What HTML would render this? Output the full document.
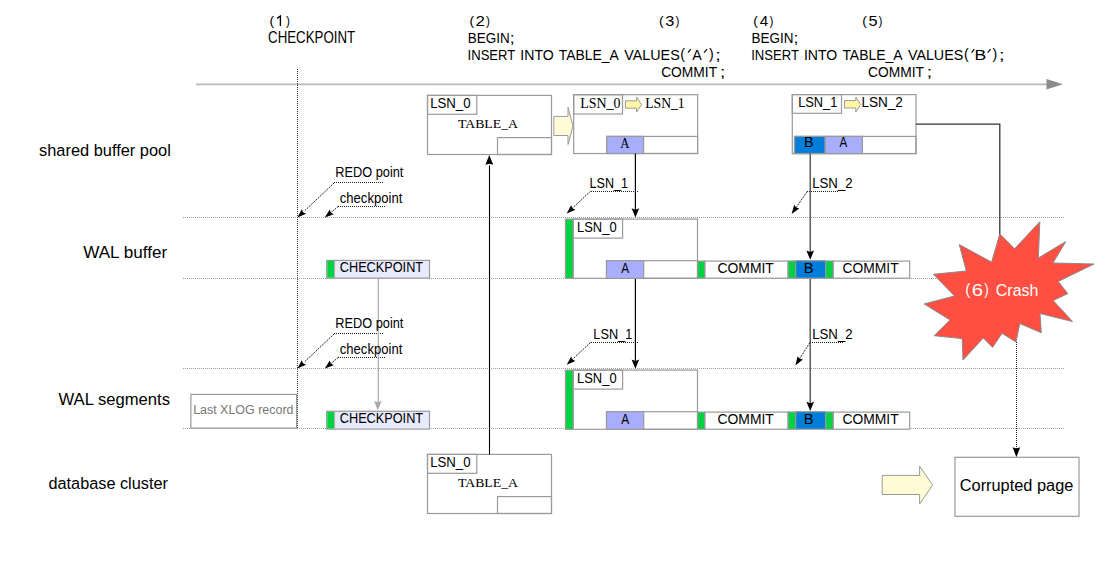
<!DOCTYPE html>
<html><head><meta charset="utf-8"><style>
html,body{margin:0;padding:0;background:#fff;width:1118px;height:570px;overflow:hidden}
svg{display:block}
text{white-space:pre}
</style></head><body>
<svg width="1118" height="570" viewBox="0 0 1118 570">
<rect width="1118" height="570" fill="#fff"/>
<line x1="196.00" y1="84.40" x2="1047.00" y2="84.40" stroke="#b8b8b8" stroke-width="1.8"/>
<polygon points="1046.50,79.00 1063.00,84.30 1046.50,89.50" fill="#8c8c8c" stroke="none" stroke-width="1" stroke-linejoin="miter"/>
<path d="M277.00,18.4 L280.40,16.0 L280.40,26.0" fill="none" stroke="#000" stroke-width="1.35" stroke-linejoin="miter"/>
<line x1="688.00" y1="52.70" x2="690.70" y2="49.10" stroke="#111" stroke-width="1.3"/>
<line x1="704.10" y1="52.70" x2="707.00" y2="49.10" stroke="#111" stroke-width="1.3"/>
<line x1="971.60" y1="52.70" x2="974.30" y2="49.10" stroke="#111" stroke-width="1.3"/>
<line x1="987.70" y1="52.70" x2="990.60" y2="49.10" stroke="#111" stroke-width="1.3"/>
<line x1="183.00" y1="217.50" x2="1064.00" y2="217.50" stroke="#a0a0a0" stroke-width="1" stroke-dasharray="1 1"/>
<line x1="183.00" y1="278.50" x2="1064.00" y2="278.50" stroke="#a0a0a0" stroke-width="1" stroke-dasharray="1 1"/>
<line x1="183.00" y1="368.50" x2="1064.00" y2="368.50" stroke="#a0a0a0" stroke-width="1" stroke-dasharray="1 1"/>
<line x1="183.00" y1="428.50" x2="1064.00" y2="428.50" stroke="#a0a0a0" stroke-width="1" stroke-dasharray="1 1"/>
<line x1="297.50" y1="69.00" x2="297.50" y2="428.50" stroke="#333" stroke-width="1" stroke-dasharray="1 1"/>
<rect x="427.50" y="95.40" width="124.00" height="59.10" fill="#fff" stroke="#9a9a9a" stroke-width="1.2"/>
<rect x="427.50" y="95.40" width="49.30" height="18.90" fill="none" stroke="#9a9a9a" stroke-width="1.2"/>
<rect x="497.50" y="137.60" width="54.00" height="16.90" fill="none" stroke="#9a9a9a" stroke-width="1.2"/>
<rect x="427.50" y="454.40" width="124.00" height="59.10" fill="#fff" stroke="#9a9a9a" stroke-width="1.2"/>
<rect x="427.50" y="454.40" width="49.30" height="18.90" fill="none" stroke="#9a9a9a" stroke-width="1.2"/>
<rect x="497.50" y="496.60" width="54.00" height="16.90" fill="none" stroke="#9a9a9a" stroke-width="1.2"/>
<polygon points="553.80,116.40 568.00,116.40 568.00,107.30 573.00,125.90 568.00,144.50 568.00,135.50 553.80,135.50" fill="#fffbd5" stroke="#9a9a9a" stroke-width="1" stroke-linejoin="miter"/>
<rect x="573.70" y="94.70" width="123.90" height="58.80" fill="#fff" stroke="#9a9a9a" stroke-width="1.2"/>
<rect x="573.70" y="94.70" width="48.80" height="19.30" fill="none" stroke="#9a9a9a" stroke-width="1.2"/>
<rect x="606.80" y="136.40" width="90.80" height="17.10" fill="none" stroke="#9a9a9a" stroke-width="1.2"/>
<rect x="606.80" y="136.40" width="36.80" height="17.10" fill="#a9adff" stroke="#9a9a9a" stroke-width="1.2"/>
<polygon points="625.40,100.80 636.60,100.80 636.60,97.10 641.50,104.60 636.60,112.10 636.60,108.20 625.40,108.20" fill="#fff6a6" stroke="#9a9a9a" stroke-width="1" stroke-linejoin="miter"/>
<rect x="792.30" y="94.60" width="123.70" height="59.10" fill="#fff" stroke="#9a9a9a" stroke-width="1.2"/>
<rect x="792.30" y="94.60" width="49.20" height="18.70" fill="none" stroke="#9a9a9a" stroke-width="1.2"/>
<rect x="794.50" y="136.40" width="121.50" height="17.10" fill="none" stroke="#9a9a9a" stroke-width="1.2"/>
<rect x="794.50" y="136.40" width="30.70" height="17.10" fill="#007ed9" stroke="#9a9a9a" stroke-width="1.2"/>
<rect x="825.20" y="136.40" width="37.20" height="17.10" fill="#a9adff" stroke="#9a9a9a" stroke-width="1.2"/>
<polygon points="844.50,100.60 855.80,100.60 855.80,97.00 860.70,104.50 855.80,112.00 855.80,108.00 844.50,108.00" fill="#fff6a6" stroke="#9a9a9a" stroke-width="1" stroke-linejoin="miter"/>
<polyline points="916,124.2 999.8,124.2 999.8,236" fill="none" stroke="#333" stroke-width="1.3"/>
<line x1="635.40" y1="153.50" x2="635.40" y2="210.00" stroke="#000" stroke-width="1.2"/>
<polygon points="635.40,217.60 631.60,208.30 635.40,209.80 639.20,208.30" fill="#000" stroke="none" stroke-width="1" stroke-linejoin="miter"/>
<line x1="635.40" y1="278.30" x2="635.40" y2="361.00" stroke="#000" stroke-width="1.2"/>
<polygon points="635.40,368.80 631.60,359.50 635.40,361.00 639.20,359.50" fill="#000" stroke="none" stroke-width="1" stroke-linejoin="miter"/>
<line x1="810.20" y1="153.50" x2="810.20" y2="254.00" stroke="#444" stroke-width="1.3"/>
<polygon points="810.20,259.80 806.40,250.50 810.20,252.00 814.00,250.50" fill="#000" stroke="none" stroke-width="1" stroke-linejoin="miter"/>
<line x1="810.20" y1="278.30" x2="810.20" y2="405.00" stroke="#444" stroke-width="1.3"/>
<polygon points="810.20,411.00 806.40,401.70 810.20,403.20 814.00,401.70" fill="#000" stroke="none" stroke-width="1" stroke-linejoin="miter"/>
<line x1="489.50" y1="454.40" x2="489.50" y2="165.50" stroke="#000" stroke-width="1.1"/>
<polygon points="489.30,155.00 493.20,164.80 489.30,163.80 485.40,164.80" fill="#000" stroke="none" stroke-width="1" stroke-linejoin="miter"/>
<line x1="334.00" y1="182.50" x2="384.00" y2="182.50" stroke="#222" stroke-width="1" stroke-dasharray="1 1"/>
<line x1="334.50" y1="182.60" x2="304.82" y2="210.60" stroke="#222" stroke-width="1.0" stroke-dasharray="2 1"/>
<polygon points="297.40,217.60 301.82,209.17 303.07,212.25 306.07,213.68" fill="#000" stroke="none" stroke-width="1" stroke-linejoin="miter"/>
<line x1="338.00" y1="206.50" x2="386.00" y2="206.50" stroke="#222" stroke-width="1" stroke-dasharray="1 1"/>
<line x1="338.50" y1="206.20" x2="327.54" y2="215.32" stroke="#222" stroke-width="1.0" stroke-dasharray="2 1"/>
<polygon points="324.80,217.60 329.74,209.46 330.80,212.61 333.70,214.23" fill="#000" stroke="none" stroke-width="1" stroke-linejoin="miter"/>
<line x1="334.00" y1="333.50" x2="384.00" y2="333.50" stroke="#222" stroke-width="1" stroke-dasharray="1 1"/>
<line x1="334.50" y1="333.60" x2="304.82" y2="361.60" stroke="#222" stroke-width="1.0" stroke-dasharray="2 1"/>
<polygon points="297.40,368.60 301.82,360.17 303.07,363.25 306.07,364.68" fill="#000" stroke="none" stroke-width="1" stroke-linejoin="miter"/>
<line x1="338.00" y1="357.50" x2="386.00" y2="357.50" stroke="#222" stroke-width="1" stroke-dasharray="1 1"/>
<line x1="338.50" y1="357.20" x2="327.54" y2="366.32" stroke="#222" stroke-width="1.0" stroke-dasharray="2 1"/>
<polygon points="324.80,368.60 329.74,360.46 330.80,363.61 333.70,365.23" fill="#000" stroke="none" stroke-width="1" stroke-linejoin="miter"/>
<line x1="591.00" y1="191.50" x2="638.00" y2="191.50" stroke="#222" stroke-width="1" stroke-dasharray="1 1"/>
<line x1="590.60" y1="191.10" x2="571.48" y2="209.10" stroke="#222" stroke-width="1.0" stroke-dasharray="2 1"/>
<polygon points="566.70,213.60 571.13,205.17 572.38,208.25 575.38,209.69" fill="#000" stroke="none" stroke-width="1" stroke-linejoin="miter"/>
<line x1="807.00" y1="191.50" x2="839.00" y2="191.50" stroke="#222" stroke-width="1" stroke-dasharray="1 1"/>
<line x1="807.40" y1="191.30" x2="794.76" y2="209.46" stroke="#222" stroke-width="1.0" stroke-dasharray="2 1"/>
<polygon points="791.60,214.00 794.20,204.84 796.06,207.60 799.29,208.38" fill="#000" stroke="none" stroke-width="1" stroke-linejoin="miter"/>
<line x1="591.00" y1="342.50" x2="638.00" y2="342.50" stroke="#222" stroke-width="1" stroke-dasharray="1 1"/>
<line x1="590.60" y1="342.40" x2="571.48" y2="360.32" stroke="#222" stroke-width="1.0" stroke-dasharray="2 1"/>
<polygon points="566.70,364.80 571.15,356.38 572.39,359.47 575.39,360.91" fill="#000" stroke="none" stroke-width="1" stroke-linejoin="miter"/>
<line x1="810.00" y1="342.50" x2="843.00" y2="342.50" stroke="#222" stroke-width="1" stroke-dasharray="1 1"/>
<line x1="810.00" y1="342.40" x2="798.32" y2="360.80" stroke="#222" stroke-width="1.0" stroke-dasharray="2 1"/>
<polygon points="795.40,365.40 797.61,356.14 799.58,358.81 802.84,359.46" fill="#000" stroke="none" stroke-width="1" stroke-linejoin="miter"/>
<rect x="326.70" y="260.40" width="102.80" height="17.70" fill="#e8eafe" stroke="#9a9a9a" stroke-width="1.2"/>
<rect x="327.30" y="260.90" width="6.80" height="16.70" fill="#00d242" stroke="none" stroke-width="1.2"/>
<line x1="334.60" y1="260.40" x2="334.60" y2="278.10" stroke="#aaa" stroke-width="1"/>
<rect x="326.70" y="411.30" width="102.80" height="17.80" fill="#e8eafe" stroke="#9a9a9a" stroke-width="1.2"/>
<rect x="327.30" y="411.80" width="6.80" height="16.80" fill="#00d242" stroke="none" stroke-width="1.2"/>
<line x1="334.60" y1="411.30" x2="334.60" y2="429.10" stroke="#aaa" stroke-width="1"/>
<line x1="378.30" y1="278.10" x2="378.30" y2="403.00" stroke="#aaa" stroke-width="1.2"/>
<polygon points="377.80,410.40 374.10,401.00 377.80,402.30 381.50,401.00" fill="#a8a8a8" stroke="none" stroke-width="1" stroke-linejoin="miter"/>
<rect x="190.90" y="394.40" width="105.70" height="33.70" fill="#fff" stroke="#9a9a9a" stroke-width="1.2"/>
<rect x="565.40" y="219.10" width="7.90" height="59.20" fill="#00d242" stroke="#9a9a9a" stroke-width="1.2"/>
<rect x="573.30" y="219.10" width="124.20" height="59.20" fill="#fff" stroke="#9a9a9a" stroke-width="1.2"/>
<rect x="573.30" y="219.10" width="49.30" height="19.00" fill="none" stroke="#9a9a9a" stroke-width="1.2"/>
<rect x="606.50" y="260.70" width="91.00" height="17.60" fill="none" stroke="#9a9a9a" stroke-width="1.2"/>
<rect x="606.50" y="260.70" width="37.20" height="17.60" fill="#a9adff" stroke="#9a9a9a" stroke-width="1.2"/>
<rect x="697.70" y="261.10" width="7.30" height="17.10" fill="#00d242" stroke="#9a9a9a" stroke-width="1.2"/>
<rect x="705.00" y="261.10" width="83.10" height="17.10" fill="#fff" stroke="#9a9a9a" stroke-width="1.2"/>
<rect x="788.10" y="261.00" width="7.60" height="17.20" fill="#00d242" stroke="#9a9a9a" stroke-width="1.2"/>
<rect x="795.70" y="260.70" width="30.00" height="17.50" fill="#007ed9" stroke="#9a9a9a" stroke-width="1.2"/>
<rect x="825.70" y="261.00" width="7.60" height="17.20" fill="#00d242" stroke="#9a9a9a" stroke-width="1.2"/>
<rect x="833.30" y="261.10" width="76.40" height="17.10" fill="#fff" stroke="#9a9a9a" stroke-width="1.2"/>
<rect x="565.40" y="370.10" width="7.90" height="59.20" fill="#00d242" stroke="#9a9a9a" stroke-width="1.2"/>
<rect x="573.30" y="370.10" width="124.20" height="59.20" fill="#fff" stroke="#9a9a9a" stroke-width="1.2"/>
<rect x="573.30" y="370.10" width="49.30" height="19.00" fill="none" stroke="#9a9a9a" stroke-width="1.2"/>
<rect x="606.50" y="411.70" width="91.00" height="17.60" fill="none" stroke="#9a9a9a" stroke-width="1.2"/>
<rect x="606.50" y="411.70" width="37.20" height="17.60" fill="#a9adff" stroke="#9a9a9a" stroke-width="1.2"/>
<rect x="697.70" y="412.10" width="7.30" height="17.10" fill="#00d242" stroke="#9a9a9a" stroke-width="1.2"/>
<rect x="705.00" y="412.10" width="83.10" height="17.10" fill="#fff" stroke="#9a9a9a" stroke-width="1.2"/>
<rect x="788.10" y="412.00" width="7.60" height="17.20" fill="#00d242" stroke="#9a9a9a" stroke-width="1.2"/>
<rect x="795.70" y="411.70" width="30.00" height="17.50" fill="#007ed9" stroke="#9a9a9a" stroke-width="1.2"/>
<rect x="825.70" y="412.00" width="7.60" height="17.20" fill="#00d242" stroke="#9a9a9a" stroke-width="1.2"/>
<rect x="833.30" y="412.10" width="76.40" height="17.10" fill="#fff" stroke="#9a9a9a" stroke-width="1.2"/>
<polygon points="999.80,234.00 1014.60,248.80 1039.80,221.70 1038.40,257.90 1065.80,241.60 1053.00,263.00 1094.00,264.00 1058.20,281.50 1067.80,293.60 1053.20,300.50 1072.60,321.60 1040.00,313.50 1041.30,332.70 1019.80,323.60 1016.00,342.00 1002.00,333.30 992.60,347.40 983.30,338.00 963.00,360.00 962.20,338.60 934.20,335.70 950.00,320.00 924.20,303.90 954.40,296.00 933.50,274.30 966.30,271.00 959.30,244.60 991.60,262.10" fill="#ff4f42" stroke="#8a8a8a" stroke-width="1" stroke-linejoin="miter"/>
<line x1="1016.50" y1="342.00" x2="1016.50" y2="449.00" stroke="#222" stroke-width="1" stroke-dasharray="1 1"/>
<polygon points="1016.40,457.20 1012.60,447.20 1016.40,448.40 1020.20,447.20" fill="#000" stroke="none" stroke-width="1" stroke-linejoin="miter"/>
<polygon points="882.20,475.40 919.60,475.40 919.60,466.20 932.60,485.10 919.60,504.00 919.60,494.50 882.20,494.50" fill="#fffbd5" stroke="#9a9a9a" stroke-width="1" stroke-linejoin="miter"/>
<rect x="955.00" y="457.30" width="124.00" height="59.00" fill="#fff" stroke="#9a9a9a" stroke-width="1.2"/>
<text transform="translate(269.45 25.19) scale(1.0407 1)" font-family="Liberation Sans" font-size="13.325" fill="#000">(</text>
<text transform="translate(285.90 25.19) scale(0.8806 1)" font-family="Liberation Sans" font-size="13.325" fill="#000">)</text>
<text transform="translate(469.45 25.19) scale(1.0407 1)" font-family="Liberation Sans" font-size="13.325" fill="#000">(</text>
<text transform="translate(475.41 26.00) scale(1.0873 1)" font-family="Liberation Sans" font-size="15.500" fill="#000">2</text>
<text transform="translate(485.90 25.19) scale(0.8806 1)" font-family="Liberation Sans" font-size="13.325" fill="#000">)</text>
<text transform="translate(658.95 25.19) scale(1.0407 1)" font-family="Liberation Sans" font-size="13.325" fill="#000">(</text>
<text transform="translate(665.19 26.00) scale(1.0522 1)" font-family="Liberation Sans" font-size="15.500" fill="#000">3</text>
<text transform="translate(675.40 25.19) scale(0.8806 1)" font-family="Liberation Sans" font-size="13.325" fill="#000">)</text>
<text transform="translate(753.15 25.19) scale(1.0407 1)" font-family="Liberation Sans" font-size="13.325" fill="#000">(</text>
<text transform="translate(759.66 26.00) scale(0.9885 1)" font-family="Liberation Sans" font-size="15.500" fill="#000">4</text>
<text transform="translate(769.60 25.19) scale(0.8806 1)" font-family="Liberation Sans" font-size="13.325" fill="#000">)</text>
<text transform="translate(862.15 25.19) scale(1.0407 1)" font-family="Liberation Sans" font-size="13.325" fill="#000">(</text>
<text transform="translate(868.39 26.00) scale(1.0522 1)" font-family="Liberation Sans" font-size="15.500" fill="#000">5</text>
<text transform="translate(878.60 25.19) scale(0.8806 1)" font-family="Liberation Sans" font-size="13.325" fill="#000">)</text>
<text transform="translate(268.08 42.90) scale(0.8467 1)" font-family="Liberation Sans" font-size="15.700" fill="#000">CHECKPOINT</text>
<text transform="translate(467.75 42.90) scale(0.8698 1)" font-family="Liberation Sans" font-size="15.500" fill="#000">BEGIN</text>
<text transform="translate(509.73 42.90) scale(1.1355 1)" font-family="Liberation Sans" font-size="15.500" fill="#000">;</text>
<text transform="translate(467.58 59.70) scale(0.8442 1)" font-family="Liberation Sans" font-size="15.500" fill="#000">INSERT</text>
<text transform="translate(520.30 59.70) scale(0.9094 1)" font-family="Liberation Sans" font-size="15.500" fill="#000">INTO</text>
<text transform="translate(558.78 59.70) scale(0.8989 1)" font-family="Liberation Sans" font-size="15.500" fill="#000">TABLE_A</text>
<text transform="translate(624.30 59.70) scale(0.9231 1)" font-family="Liberation Sans" font-size="15.500" fill="#000">VALUES</text>
<text transform="translate(680.33 59.39) scale(1.0348 1)" font-family="Liberation Sans" font-size="13.744" fill="#000">(</text>
<text transform="translate(692.20 59.80) scale(0.9218 1)" font-family="Liberation Sans" font-size="15.500" fill="#000">A</text>
<text transform="translate(709.00 59.39) scale(1.0348 1)" font-family="Liberation Sans" font-size="13.744" fill="#000">)</text>
<text transform="translate(715.34 59.70) scale(1.2903 1)" font-family="Liberation Sans" font-size="15.500" fill="#000">;</text>
<text transform="translate(661.15 76.50) scale(0.8908 1)" font-family="Liberation Sans" font-size="15.500" fill="#000">COMMIT</text>
<text transform="translate(719.90 76.50) scale(1.2387 1)" font-family="Liberation Sans" font-size="15.500" fill="#000">;</text>
<text transform="translate(751.45 42.90) scale(0.8698 1)" font-family="Liberation Sans" font-size="15.500" fill="#000">BEGIN</text>
<text transform="translate(793.42 42.90) scale(1.1355 1)" font-family="Liberation Sans" font-size="15.500" fill="#000">;</text>
<text transform="translate(751.18 59.70) scale(0.8442 1)" font-family="Liberation Sans" font-size="15.500" fill="#000">INSERT</text>
<text transform="translate(803.90 59.70) scale(0.9094 1)" font-family="Liberation Sans" font-size="15.500" fill="#000">INTO</text>
<text transform="translate(842.38 59.70) scale(0.8989 1)" font-family="Liberation Sans" font-size="15.500" fill="#000">TABLE_A</text>
<text transform="translate(907.90 59.70) scale(0.9231 1)" font-family="Liberation Sans" font-size="15.500" fill="#000">VALUES</text>
<text transform="translate(963.93 59.39) scale(1.0348 1)" font-family="Liberation Sans" font-size="13.744" fill="#000">(</text>
<text transform="translate(974.43 59.80) scale(1.1325 1)" font-family="Liberation Sans" font-size="15.500" fill="#000">B</text>
<text transform="translate(992.60 59.39) scale(1.0348 1)" font-family="Liberation Sans" font-size="13.744" fill="#000">)</text>
<text transform="translate(998.94 59.70) scale(1.2903 1)" font-family="Liberation Sans" font-size="15.500" fill="#000">;</text>
<text transform="translate(868.05 76.50) scale(0.8908 1)" font-family="Liberation Sans" font-size="15.500" fill="#000">COMMIT</text>
<text transform="translate(926.80 76.50) scale(1.2387 1)" font-family="Liberation Sans" font-size="15.500" fill="#000">;</text>
<text transform="translate(39.04 156.40) scale(0.9942 1)" font-family="Liberation Sans" font-size="16.500" fill="#000">shared buffer pool</text>
<text transform="translate(83.20 258.20) scale(1.0363 1)" font-family="Liberation Sans" font-size="16.500" fill="#000">WAL buffer</text>
<text transform="translate(58.50 404.80) scale(1.0086 1)" font-family="Liberation Sans" font-size="16.500" fill="#000">WAL segments</text>
<text transform="translate(48.49 488.50) scale(0.9877 1)" font-family="Liberation Sans" font-size="16.500" fill="#000">database cluster</text>
<text transform="translate(430.17 108.40) scale(0.8919 1)" font-family="Liberation Sans" font-size="14.800" fill="#000">LSN_0</text>
<text transform="translate(457.98 128.20) scale(1.0349 1)" font-family="Liberation Serif" font-size="13.300" fill="#000" stroke="#000" stroke-width="0.05">TABLE_A</text>
<text transform="translate(430.17 467.40) scale(0.8919 1)" font-family="Liberation Sans" font-size="14.800" fill="#000">LSN_0</text>
<text transform="translate(457.98 487.20) scale(1.0349 1)" font-family="Liberation Serif" font-size="13.300" fill="#000" stroke="#000" stroke-width="0.05">TABLE_A</text>
<text transform="translate(580.28 108.10) scale(0.9952 1)" font-family="Liberation Serif" font-size="14.000" fill="#000" stroke="#000" stroke-width="0.05">LSN_0</text>
<text transform="translate(645.19 108.40) scale(0.9779 1)" font-family="Liberation Serif" font-size="14.000" fill="#000" stroke="#000" stroke-width="0.05">LSN_1</text>
<text transform="translate(620.30 147.70) scale(0.9143 1)" font-family="Liberation Serif" font-size="14.000" fill="#000" stroke="#000" stroke-width="0.05">A</text>
<text transform="translate(798.20 106.90) scale(0.8644 1)" font-family="Liberation Sans" font-size="14.800" fill="#000">LSN_1</text>
<text transform="translate(861.44 107.10) scale(0.9150 1)" font-family="Liberation Sans" font-size="14.800" fill="#000">LSN_2</text>
<text transform="translate(804.07 147.40) scale(1.0318 1)" font-family="Liberation Sans" font-size="14.000" fill="#000">B</text>
<text transform="translate(839.40 147.40) scale(0.8292 1)" font-family="Liberation Sans" font-size="14.000" fill="#000">A</text>
<text transform="translate(335.20 177.10) scale(0.8823 1)" font-family="Liberation Sans" font-size="14.500" fill="#000">REDO point</text>
<text transform="translate(339.79 203.10) scale(0.9025 1)" font-family="Liberation Sans" font-size="14.500" fill="#000">checkpoint</text>
<text transform="translate(335.20 328.10) scale(0.8823 1)" font-family="Liberation Sans" font-size="14.500" fill="#000">REDO point</text>
<text transform="translate(339.79 354.10) scale(0.9025 1)" font-family="Liberation Sans" font-size="14.500" fill="#000">checkpoint</text>
<text transform="translate(589.62 188.20) scale(0.8541 1)" font-family="Liberation Sans" font-size="14.700" fill="#000">LSN_1</text>
<text transform="translate(812.17 188.00) scale(0.9004 1)" font-family="Liberation Sans" font-size="14.700" fill="#000">LSN_2</text>
<text transform="translate(593.30 339.00) scale(0.8680 1)" font-family="Liberation Sans" font-size="14.700" fill="#000">LSN_1</text>
<text transform="translate(812.17 339.10) scale(0.9004 1)" font-family="Liberation Sans" font-size="14.700" fill="#000">LSN_2</text>
<text transform="translate(339.80 272.40) scale(0.8208 1)" font-family="Liberation Sans" font-size="15.500" fill="#000">CHECKPOINT</text>
<text transform="translate(339.80 423.40) scale(0.8208 1)" font-family="Liberation Sans" font-size="15.500" fill="#000">CHECKPOINT</text>
<text transform="translate(193.13 414.00) scale(0.9100 1)" font-family="Liberation Sans" font-size="13.700" fill="#777">Last XLOG record</text>
<text transform="translate(576.99 232.00) scale(0.8759 1)" font-family="Liberation Sans" font-size="14.800" fill="#000">LSN_0</text>
<text transform="translate(621.20 272.60) scale(0.8505 1)" font-family="Liberation Sans" font-size="14.000" fill="#000">A</text>
<text transform="translate(717.45 272.90) scale(0.8989 1)" font-family="Liberation Sans" font-size="15.500" fill="#000">COMMIT</text>
<text transform="translate(803.64 272.60) scale(1.0580 1)" font-family="Liberation Sans" font-size="14.000" fill="#000">B</text>
<text transform="translate(842.45 272.90) scale(0.8940 1)" font-family="Liberation Sans" font-size="15.500" fill="#000">COMMIT</text>
<text transform="translate(576.99 383.00) scale(0.8759 1)" font-family="Liberation Sans" font-size="14.800" fill="#000">LSN_0</text>
<text transform="translate(621.20 423.60) scale(0.8505 1)" font-family="Liberation Sans" font-size="14.000" fill="#000">A</text>
<text transform="translate(717.45 423.90) scale(0.8989 1)" font-family="Liberation Sans" font-size="15.500" fill="#000">COMMIT</text>
<text transform="translate(803.64 423.60) scale(1.0580 1)" font-family="Liberation Sans" font-size="14.000" fill="#000">B</text>
<text transform="translate(842.45 423.90) scale(0.8940 1)" font-family="Liberation Sans" font-size="15.500" fill="#000">COMMIT</text>
<text transform="translate(965.28 295.39) scale(0.9524 1)" font-family="Liberation Sans" font-size="16.052" fill="#fff">(</text>
<text transform="translate(971.65 296.30) scale(1.2063 1)" font-family="Liberation Sans" font-size="16.800" fill="#fff">6</text>
<text transform="translate(984.30 295.39) scale(0.8417 1)" font-family="Liberation Sans" font-size="16.052" fill="#fff">)</text>
<text transform="translate(995.85 295.80) scale(0.9470 1)" font-family="Liberation Sans" font-size="16.800" fill="#fff">Crash</text>
<text transform="translate(959.73 490.90) scale(0.9452 1)" font-family="Liberation Sans" font-size="17.300" fill="#000">Corrupted page</text>

</svg>
</body></html>
